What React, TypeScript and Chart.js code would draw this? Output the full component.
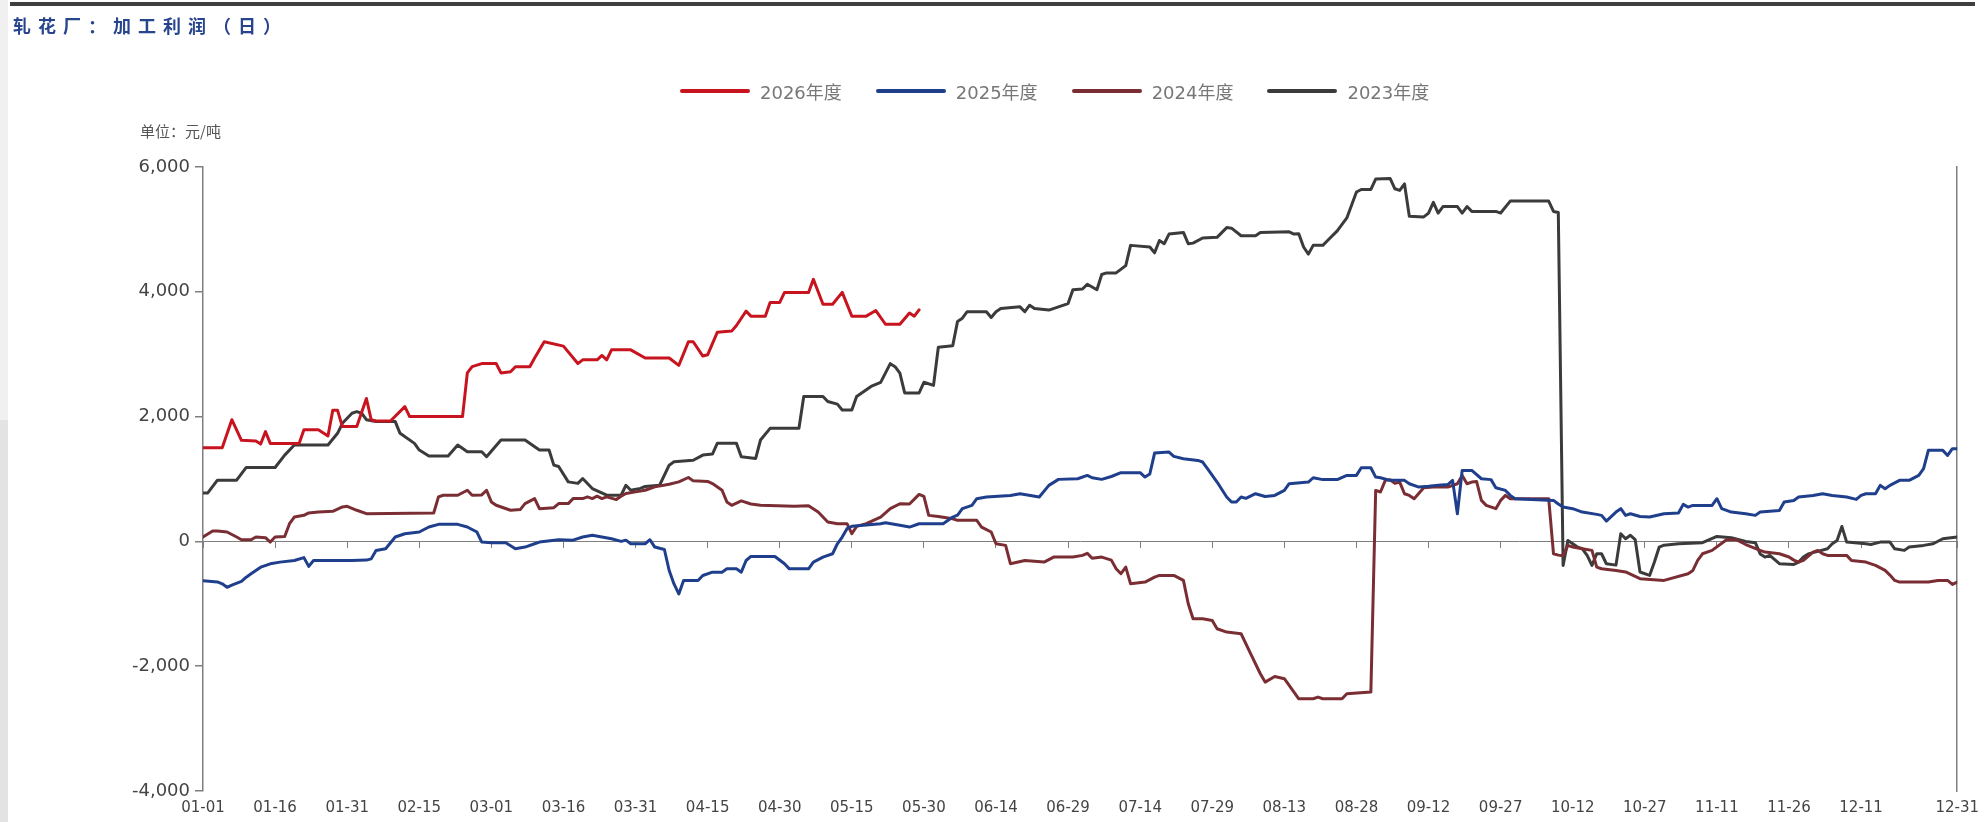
import { useEffect, useRef } from "react";
import { Chart, registerables } from "chart.js";

Chart.register(...registerables);

// Day-of-year (0 = 01-01 on a 366-day calendar) paired with ginning margin in yuan/ton
const profit2026: [number, number][] = [
  [0, 1500], [4, 1500], [6, 1950], [8, 1620], [11, 1610], [12, 1560], [13, 1760], [14, 1570], [20, 1570], [21, 1790],
  [24, 1790], [26, 1690], [27, 2100], [28, 2100], [29, 1840], [32, 1840], [34, 2290], [35, 1950], [36, 1930], [39, 1930],
  [42, 2160], [43, 2000], [54, 2000], [55, 2700], [56, 2800], [58, 2850], [61, 2850], [62, 2700], [64, 2720], [65, 2800],
  [68, 2800], [69, 2940], [71, 3200], [75, 3130], [78, 2850], [79, 2910], [82, 2910], [83, 2980], [84, 2910], [85, 3070],
  [89, 3070], [92, 2940], [97, 2940], [99, 2820], [101, 3200], [102, 3200], [104, 2970], [105, 2990], [107, 3350], [110, 3370],
  [111, 3460], [113, 3690], [114, 3610], [117, 3610], [118, 3830], [120, 3830], [121, 3990], [126, 3990], [127, 4200], [129, 3800],
  [131, 3800], [133, 3990], [135, 3610], [138, 3610], [140, 3700], [142, 3480], [145, 3480], [147, 3660], [148, 3610], [149, 3710],
];

const profit2025: [number, number][] = [
  [0, -630], [3, -650], [4, -680], [5, -735], [6, -700], [8, -640], [9, -574], [10, -520], [12, -413], [14, -359],
  [16, -332], [19, -306], [21, -260], [22, -400], [23, -306], [31, -306], [34, -300], [35, -280], [36, -145], [38, -118],
  [40, 70], [42, 123], [45, 150], [47, 231], [49, 273], [53, 273], [55, 231], [57, 150], [58, -11], [60, -21],
  [63, -21], [65, -118], [67, -91], [69, -38], [70, -11], [74, 27], [77, 20], [79, 70], [81, 97], [83, 70],
  [85, 43], [87, 0], [88, 20], [89, -38], [92, -38], [93, 27], [94, -91], [96, -130], [97, -466], [98, -681],
  [99, -842], [100, -627], [103, -627], [104, -547], [106, -493], [108, -493], [109, -440], [111, -440], [112, -493], [113, -306],
  [114, -241], [119, -241], [121, -359], [122, -440], [126, -440], [127, -332], [129, -252], [131, -198], [132, -38], [133, 70],
  [134, 204], [135, 241], [141, 283], [142, 300], [145, 260], [147, 230], [149, 283], [154, 283], [156, 390], [157, 420],
  [158, 524], [160, 577], [161, 684], [163, 711], [168, 737], [170, 764], [174, 711], [176, 898], [178, 994], [182, 1004],
  [184, 1058], [185, 1020], [187, 994], [189, 1040], [191, 1101], [195, 1101], [196, 1031], [197, 1080], [198, 1416], [201, 1432],
  [202, 1362], [204, 1325], [207, 1298], [208, 1272], [209, 1165], [211, 951], [213, 711], [214, 630], [215, 630], [216, 711],
  [217, 690], [219, 764], [221, 720], [223, 737], [225, 817], [226, 924], [230, 951], [231, 1020], [233, 990], [236, 990],
  [238, 1058], [240, 1058], [241, 1181], [243, 1181], [244, 1031], [245, 1020], [247, 978], [250, 978], [251, 924], [253, 871],
  [255, 882], [257, 898], [259, 910], [260, 978], [261, 443], [262, 1138], [264, 1138], [266, 1004], [268, 990], [269, 860],
  [271, 817], [272, 737], [273, 684], [281, 657], [282, 600], [283, 550], [285, 524], [287, 470], [290, 433], [291, 417],
  [292, 326], [294, 470], [295, 524], [296, 417], [297, 443], [299, 400], [301, 390], [304, 443], [307, 454], [308, 593],
  [309, 550], [310, 577], [314, 577], [315, 684], [316, 524], [318, 470], [321, 443], [323, 417], [324, 470], [328, 497],
  [329, 630], [331, 657], [332, 711], [335, 737], [337, 764], [339, 737], [342, 711], [344, 673], [345, 737], [346, 764],
  [348, 764], [349, 898], [350, 844], [351, 898], [353, 978], [355, 978], [357, 1058], [358, 1165], [359, 1459], [362, 1459],
  [363, 1378], [364, 1485], [365, 1485],
];

const profit2024: [number, number][] = [
  [0, 70], [2, 166], [3, 166], [5, 150], [7, 70], [8, 27], [10, 27], [11, 70], [13, 60], [14, -11],
  [15, 70], [17, 80], [18, 284], [19, 391], [21, 418], [22, 456], [24, 472], [27, 483], [29, 552], [30, 563],
  [32, 499], [34, 445], [48, 456], [49, 713], [50, 740], [53, 740], [55, 820], [56, 740], [58, 745], [59, 820],
  [60, 633], [61, 579], [64, 499], [66, 510], [67, 606], [69, 686], [70, 525], [73, 540], [74, 606], [76, 606],
  [77, 686], [79, 686], [80, 713], [81, 686], [82, 725], [83, 686], [84, 713], [86, 670], [87, 725], [88, 767],
  [90, 794], [92, 820], [94, 874], [97, 917], [99, 954], [101, 1024], [102, 970], [105, 960], [106, 927], [108, 820],
  [109, 633], [110, 579], [112, 650], [114, 600], [116, 579], [123, 563], [126, 570], [128, 472], [130, 311], [132, 284],
  [134, 284], [135, 123], [136, 240], [138, 284], [141, 390], [143, 524], [145, 604], [147, 600], [149, 753], [150, 720],
  [151, 417], [153, 400], [156, 363], [157, 337], [161, 337], [162, 230], [164, 150], [165, -37], [167, -64], [168, -358],
  [171, -305], [175, -331], [177, -251], [181, -251], [183, -224], [184, -190], [185, -270], [187, -251], [189, -300], [190, -438],
  [191, -518], [192, -411], [193, -679], [196, -652], [198, -572], [199, -545], [202, -545], [204, -625], [205, -1000], [206, -1240],
  [208, -1240], [210, -1266], [211, -1400], [213, -1453], [216, -1480], [218, -1801], [220, -2121], [221, -2255], [223, -2164], [225, -2201],
  [227, -2415], [228, -2522], [231, -2522], [232, -2495], [233, -2522], [237, -2522], [238, -2442], [243, -2415], [244, 817], [245, 791],
  [246, 978], [247, 988], [248, 930], [249, 950], [250, 764], [251, 737], [252, 684], [254, 860], [256, 871], [259, 871],
  [261, 924], [262, 1058], [263, 924], [264, 951], [265, 960], [266, 657], [267, 577], [269, 524], [270, 657], [271, 737],
  [272, 684], [280, 684], [281, -198], [282, -220], [283, -230], [284, -64], [285, -91], [287, -118], [289, -144], [290, -411],
  [291, -438], [294, -465], [296, -490], [299, -598], [304, -625], [309, -518], [310, -465], [311, -305], [312, -198], [314, -144],
  [317, 27], [319, 27], [321, -50], [324, -144], [325, -171], [328, -198], [330, -250], [331, -300], [332, -331], [333, -305],
  [335, -171], [336, -144], [337, -198], [338, -224], [342, -224], [343, -305], [346, -331], [348, -385], [350, -465], [351, -540],
  [352, -625], [353, -652], [359, -652], [361, -625], [363, -625], [364, -689], [365, -652],
];

const profit2023: [number, number][] = [
  [0, 777], [1, 777], [3, 981], [7, 981], [9, 1185], [15, 1185], [17, 1383], [19, 1544], [26, 1544], [28, 1732],
  [29, 1893], [31, 2054], [32, 2080], [33, 2054], [34, 1950], [36, 1920], [40, 1920], [41, 1732], [44, 1571], [45, 1464],
  [47, 1367], [51, 1367], [53, 1544], [55, 1437], [58, 1437], [59, 1357], [62, 1625], [67, 1625], [70, 1464], [72, 1464],
  [73, 1222], [74, 1200], [76, 954], [78, 930], [79, 1008], [81, 847], [84, 740], [87, 740], [88, 900], [89, 820],
  [91, 850], [92, 880], [95, 900], [97, 1222], [98, 1276], [102, 1300], [104, 1383], [106, 1400], [107, 1571], [111, 1571],
  [112, 1357], [115, 1330], [116, 1625], [118, 1812], [124, 1812], [125, 2322], [129, 2322], [130, 2241], [132, 2200], [133, 2107],
  [135, 2107], [136, 2322], [139, 2483], [141, 2548], [143, 2848], [144, 2800], [145, 2698], [146, 2380], [149, 2380], [150, 2550],
  [152, 2500], [153, 3111], [156, 3137], [157, 3526], [158, 3577], [159, 3681], [163, 3681], [164, 3588], [165, 3681], [166, 3733],
  [170, 3759], [171, 3681], [172, 3785], [173, 3733], [176, 3707], [180, 3811], [181, 4034], [183, 4044], [184, 4122], [186, 4034],
  [187, 4277], [188, 4303], [190, 4303], [192, 4420], [193, 4744], [197, 4718], [198, 4625], [199, 4822], [200, 4770], [201, 4925],
  [204, 4951], [205, 4770], [206, 4780], [208, 4863], [211, 4873], [213, 5029], [214, 5020], [216, 4899], [219, 4899], [220, 4951],
  [226, 4961], [227, 4925], [228, 4930], [229, 4718], [230, 4604], [231, 4744], [233, 4744], [234, 4822], [236, 4977], [238, 5184],
  [240, 5599], [241, 5640], [243, 5640], [244, 5806], [247, 5817], [248, 5651], [249, 5625], [250, 5729], [251, 5210], [254, 5200],
  [255, 5262], [256, 5433], [257, 5262], [258, 5366], [261, 5366], [262, 5262], [263, 5366], [264, 5288], [269, 5288], [270, 5262],
  [272, 5454], [280, 5454], [281, 5288], [282, 5270], [283, -385], [284, 16], [285, -37], [286, -91], [287, -118], [288, -224],
  [289, -385], [290, -198], [291, -198], [292, -358], [294, -380], [295, 123], [296, 43], [297, 97], [298, 27], [299, -491],
  [301, -545], [302, -331], [303, -91], [304, -60], [307, -37], [312, -20], [315, 80], [318, 59], [321, 0], [323, -20],
  [324, -200], [325, -251], [326, -224], [328, -358], [331, -369], [332, -331], [333, -251], [334, -200], [336, -160], [338, -118],
  [339, -37], [340, 16], [341, 240], [342, -11], [346, -37], [347, -50], [349, -11], [351, -11], [352, -118], [354, -144],
  [355, -91], [358, -64], [360, -37], [362, 43], [365, 69],
];

const seriesNames = ["2026年度", "2025年度", "2024年度", "2023年度"];
const seriesColors = ["#c8141f", "#1f3f8c", "#7a2e33", "#3b3b3b"];
const seriesData = [profit2026, profit2025, profit2024, profit2023];

const tickDays = [0, 15, 30, 45, 60, 75, 90, 105, 120, 135, 150, 165, 180, 195, 210, 225, 240, 255, 270, 285, 300, 315, 330, 345, 365];
const tickLabels = [
  "01-01", "01-16", "01-31", "02-15", "03-01", "03-16", "03-31", "04-15", "04-30", "05-15", "05-30", "06-14", "06-29",
  "07-14", "07-29", "08-13", "08-28", "09-12", "09-27", "10-12", "10-27", "11-11", "11-26", "12-11", "12-31",
];
const yTicks = [-4000, -2000, 0, 2000, 4000, 6000];

const W = 1987;
const H = 822;
const axisGrey = "#7f7f7f";
const labelGrey = "#444444";

export default function App() {
  const canvasRef = useRef<HTMLCanvasElement | null>(null);

  useEffect(() => {
    const canvas = canvasRef.current;
    if (!canvas) return;
    const dayTicks = (s: any) => {
      s.ticks = tickDays.map((v) => ({ value: v }));
    };
    const chart = new Chart(canvas, {
      type: "line",
      data: {
        datasets: seriesData.map((pts, i) => ({
          label: seriesNames[i],
          data: pts.map(([x, y]) => ({ x, y })),
          borderColor: seriesColors[i],
          backgroundColor: seriesColors[i],
          borderWidth: 3,
          pointRadius: 0,
          tension: 0,
          fill: false,
          borderJoinStyle: "round" as const,
          borderCapStyle: "round" as const,
        })),
      },
      options: {
        animation: false,
        responsive: false,
        maintainAspectRatio: false,
        events: [],
        layout: { autoPadding: false, padding: { left: 0, right: 22, top: 167, bottom: 0 } },
        plugins: {
          legend: { display: false },
          title: { display: false },
          tooltip: { enabled: false },
        },
        scales: {
          x: {
            type: "linear",
            position: "bottom",
            min: 0,
            max: 365,
            afterBuildTicks: dayTicks,
            afterFit: (s: any) => {
              s.height = H - 791;
            },
            grid: { display: false, drawTicks: false },
            border: { display: false },
            ticks: {
              autoSkip: false,
              maxRotation: 0,
              minRotation: 0,
              padding: 8,
              color: labelGrey,
              font: { family: "'DejaVu Sans', sans-serif", size: 15 },
              callback: (v: any) => {
                const i = tickDays.indexOf(Number(v));
                return i >= 0 ? tickLabels[i] : "";
              },
            },
          },
          zero: {
            type: "linear",
            axis: "x",
            position: { y: 0 },
            min: 0,
            max: 365,
            afterBuildTicks: dayTicks,
            grid: { drawOnChartArea: false, drawTicks: true, tickLength: 6, color: axisGrey, lineWidth: 1 },
            border: { display: true, color: axisGrey, width: 1 },
            ticks: { display: false },
          },
          y: {
            type: "linear",
            position: "left",
            min: -4000,
            max: 6000,
            afterBuildTicks: (s: any) => {
              s.ticks = yTicks.map((v) => ({ value: v }));
            },
            afterFit: (s: any) => {
              s.width = 203;
            },
            grid: { drawOnChartArea: false, drawTicks: true, tickLength: 8, color: axisGrey, lineWidth: 1.5 },
            border: { display: true, color: axisGrey, width: 1.5 },
            ticks: {
              padding: 5,
              color: labelGrey,
              font: { family: "'DejaVu Sans', sans-serif", size: 18 },
              callback: (v: any) => Number(v).toLocaleString("en-US"),
            },
          },
          yRight: {
            type: "linear",
            position: "right",
            min: -4000,
            max: 6000,
            afterFit: (s: any) => {
              s.width = 0;
            },
            grid: { display: false, drawTicks: false },
            border: { display: true, color: axisGrey, width: 1.5 },
            ticks: { display: false },
          },
        },
      } as any,
    });
    return () => chart.destroy();
  }, []);

  return (
    <div
      style={{
        position: "absolute",
        left: 0,
        top: 0,
        width: W,
        height: H,
        background: "#ffffff",
        overflow: "hidden",
      }}
    >
      <div style={{ position: "absolute", left: 0, top: 0, width: 8, height: H, background: "#f0f0f0" }} />
      <div style={{ position: "absolute", left: 0, top: 420, width: 8, height: H - 420, background: "#e3e3e3" }} />
      <canvas ref={canvasRef} width={W} height={H} style={{ position: "absolute", left: 0, top: 0, width: W, height: H }} />
      <div style={{ position: "absolute", left: 10, top: 2, width: 1965, height: 4, background: "#3f3f3f" }} />
      <div
        style={{
          position: "absolute",
          left: 13,
          top: 13,
          fontFamily: "'Noto Sans CJK SC', sans-serif",
          fontWeight: 700,
          fontSize: 18,
          lineHeight: "24px",
          letterSpacing: 7,
          color: "#27458d",
          whiteSpace: "nowrap",
        }}
      >
        轧花厂：加工利润（日）
      </div>
      <div
        style={{
          position: "absolute",
          left: 680,
          top: 80,
          height: 22,
          display: "flex",
          alignItems: "center",
          fontFamily: "'DejaVu Sans', 'Noto Sans CJK SC', sans-serif",
          fontSize: 18,
          color: "#777777",
          whiteSpace: "nowrap",
        }}
      >
        {seriesNames.map((name, i) => (
          <div key={name} style={{ display: "flex", alignItems: "center", marginRight: 34 }}>
            <div style={{ width: 70, height: 4, borderRadius: 2, background: seriesColors[i], marginRight: 10 }} />
            <span>{name}</span>
          </div>
        ))}
      </div>
      <div
        style={{
          position: "absolute",
          left: 140,
          top: 121,
          fontFamily: "'Noto Sans CJK SC', sans-serif",
          fontSize: 15,
          lineHeight: "20px",
          color: "#555555",
          whiteSpace: "nowrap",
        }}
      >
        单位：元/吨
      </div>
    </div>
  );
}
